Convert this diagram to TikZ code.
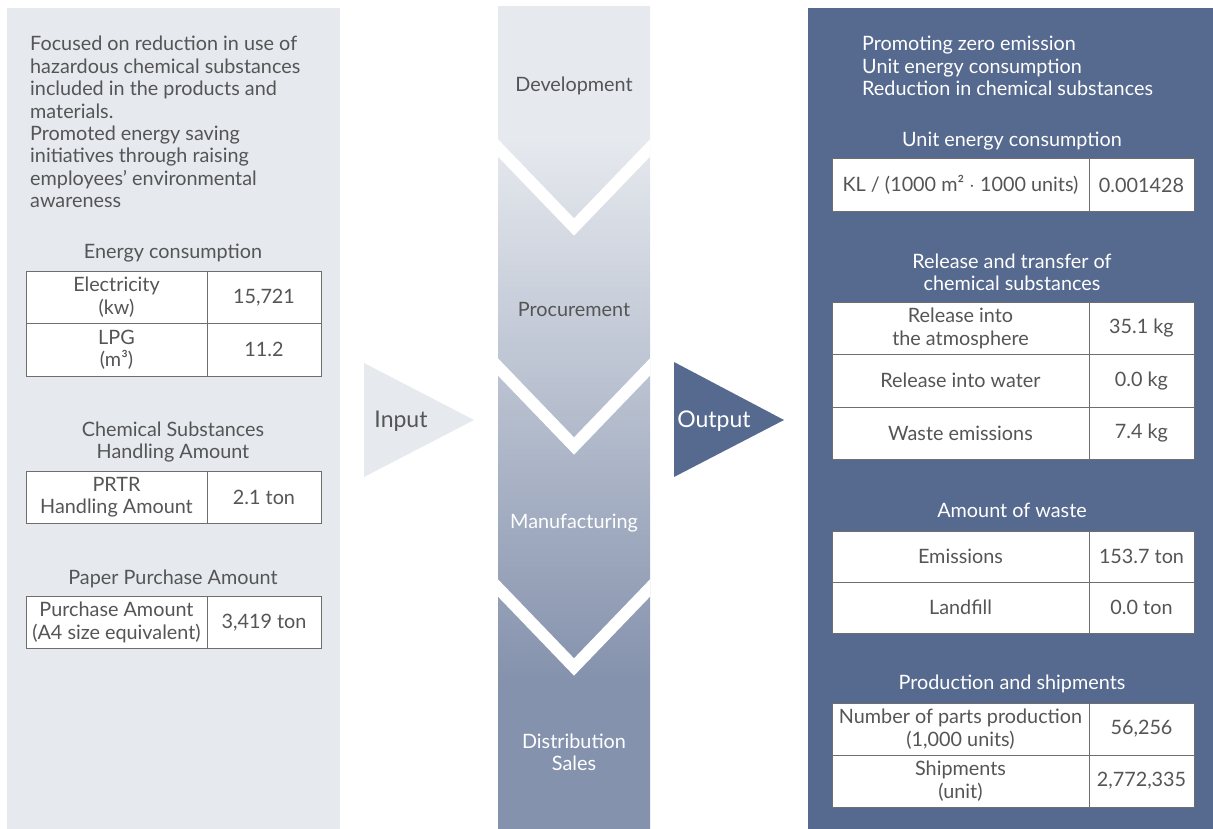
\documentclass[tikz,border=0pt]{standalone}
\usepackage{fontspec}
\setmainfont{Lato}
\usetikzlibrary{positioning}

\definecolor{panelgray}{HTML}{E6E9EE}
\definecolor{panelblue}{HTML}{56698E}
\definecolor{flowdark}{HTML}{8592AD}
\definecolor{txtgray}{HTML}{555555}
\definecolor{rulegray}{HTML}{6E6E6E}

% flow column: light on top, darker towards the bottom
\pgfdeclareverticalshading{flowshade}{100bp}{color(0bp)=(flowdark); color(34bp)=(flowdark); color(67bp)=(panelgray); color(100bp)=(panelgray)}

\tikzset{
  txt/.style={text=txtgray, font=\fontsize{19.8}{22.4}\selectfont, inner sep=0pt, align=center},
  wtxt/.style={txt, text=white},
  cell/.style={txt, draw=rulegray, line width=1pt, fill=white, outer sep=0pt, anchor=north west, minimum height=52.5pt},
  lname/.style={cell, minimum width=181pt},
  lval/.style={cell, minimum width=114pt},
  rname/.style={cell, minimum width=257pt},
  rval/.style={cell, minimum width=105pt},
}

\begin{document}
\begin{tikzpicture}[x=1pt, y=-1pt]
\useasboundingbox (0,0) rectangle (1213,829);

% background panels
\fill[panelgray] (7,8) rectangle (340,829);
\fill[panelblue] (808,8) rectangle (1213,829);
\shade[shading=flowshade] (498,7) rectangle (650,829);

% chevrons in the flow column
\begin{scope}
\clip (498,7) rectangle (650,829);
\foreach \t in {148,367,588}
  \draw[white, line width=12pt, shorten <=-12pt, shorten >=-12pt] (498,\t) -- (574,\t+79) -- (650,\t);
\end{scope}

% input / output arrows
\fill[panelgray] (364,363) -- (474,420) -- (364,477) -- cycle;
\fill[panelblue] (674,362) -- (784,420) -- (674,477) -- cycle;
\node[txt, font=\fontsize{23}{26}\selectfont] (input) at (401,421) {Input};
\node[wtxt, font=\fontsize{23}{26}\selectfont] (output) at (714,421) {Output};

% flow stages
\node[txt] (dev) at (574,86) {Development};
\node[txt] (proc) at (574,309) {Procurement};
\node[wtxt] (manu) at (574,523) {Manufacturing};
\node[wtxt] (dist) at (574,752) {Distribution\\Sales};

% left panel: input
\node[txt, align=left, anchor=west] (intro) at (30,122) {Focused on reduction in use of\\hazardous chemical substances\\included in the products and\\materials.\\Promoted energy saving\\initiatives through raising\\employees' environmental\\awareness};

\node[txt] (energy) at (173,253) {Energy consumption};
\node[lname] (elec) at (26,271) {Electricity\\(kw)};
\node[lval] (elecval) at (elec.north east) {15,721};
\node[lname] (lpg) at (elec.south west) {LPG\\(m³)};
\node[lval] (lpgval) at (lpg.north east) {11.2};

\node[txt] (chem) at (173,442) {Chemical Substances\\Handling Amount};
\node[lname] (prtr) at (26,471) {PRTR\\Handling Amount};
\node[lval] (prtrval) at (prtr.north east) {2.1 ton};

\node[txt] (paper) at (173,579) {Paper Purchase Amount};
\node[lname] (purch) at (26,596) {Purchase Amount\\(A4 size equivalent)};
\node[lval] (purchval) at (purch.north east) {3,419 ton};

% right panel: output
\node[wtxt, align=left, anchor=west] (goals) at (862,66) {Promoting zero emission\\Unit energy consumption\\Reduction in chemical substances};

\node[wtxt] (unit) at (1012,141) {Unit energy consumption};
\node[rname] (kl) at (832,159) {KL / (1000 m² $\cdot$ 1000 units)};
\node[rval] (klval) at (kl.north east) {0.001428};

\node[wtxt] (rel) at (1012,272) {Release and transfer of\\chemical substances};
\node[rname] (atm) at (832,302) {Release into\\the atmosphere};
\node[rval] (atmval) at (atm.north east) {35.1 kg};
\node[rname] (water) at (atm.south west) {Release into water};
\node[rval] (waterval) at (water.north east) {0.0 kg};
\node[rname] (wemis) at (water.south west) {Waste emissions};
\node[rval] (wemisval) at (wemis.north east) {7.4 kg};

\node[wtxt] (waste) at (1012,510) {Amount of waste};
\node[rname, minimum height=51pt] (emis) at (832,531) {Emissions};
\node[rval, minimum height=51pt] (emisval) at (emis.north east) {153.7 ton};
\node[rname, minimum height=51pt] (land) at (emis.south west) {Landfill};
\node[rval, minimum height=51pt] (landval) at (land.north east) {0.0 ton};

\node[wtxt] (prod) at (1012,684) {Production and shipments};
\node[rname, minimum height=52pt] (parts) at (832,703) {Number of parts production\\(1,000 units)};
\node[rval, minimum height=52pt] (partsval) at (parts.north east) {56,256};
\node[rname, minimum height=52pt] (ship) at (parts.south west) {Shipments\\(unit)};
\node[rval, minimum height=52pt] (shipval) at (ship.north east) {2,772,335};
\end{tikzpicture}
\end{document}
